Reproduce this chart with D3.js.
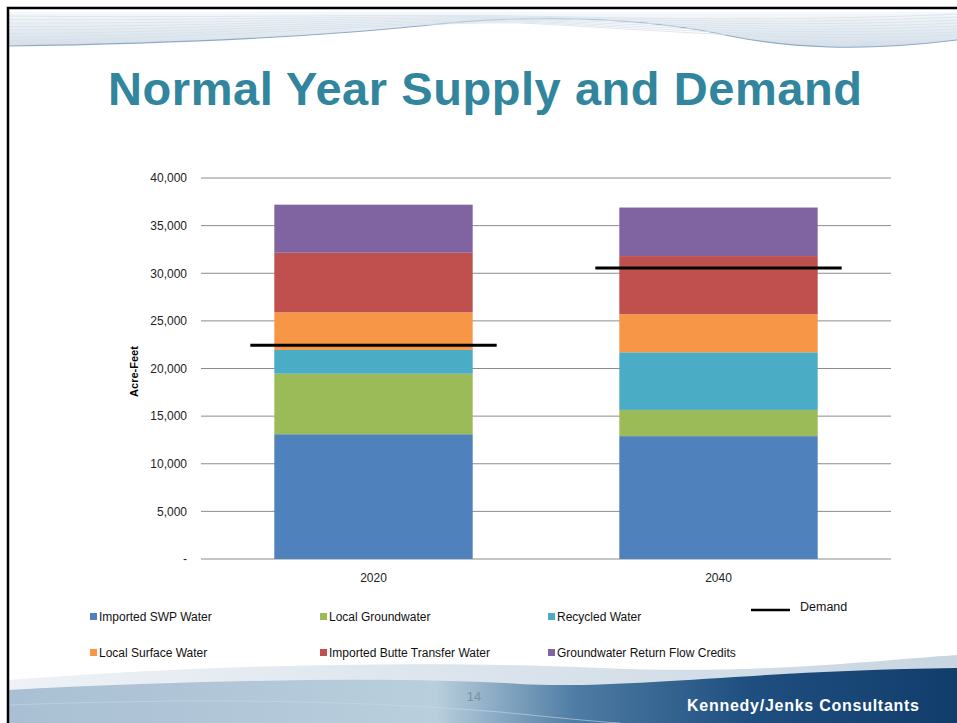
<!DOCTYPE html>
<html>
<head>
<meta charset="utf-8">
<script src="https://cdn.jsdelivr.net/npm/d3@7"></script>
<style>
  body { margin: 0; background: #fff; }
  svg { display: block; font-family: "Liberation Sans", Arial, sans-serif; }
</style>
</head>
<body>
<div id="chart"></div>
<script>
// Chart data (acre-feet)
const years = ["2020", "2040"];
const seriesNames = [
    "Imported SWP Water",
    "Local Groundwater",
    "Recycled Water",
    "Local Surface Water",
    "Imported Butte Transfer Water",
    "Groundwater Return Flow Credits"
];
const importedSWP = [13100, 12900];
const localGroundwater = [6350, 2750];
const recycledWater = [2500, 6050];
const localSurfaceWater = [3950, 4000];
const butteTransfer = [6250, 6100];
const returnFlowCredits = [5050, 5100];
const demand = [22450, 30550];
const yTicks = [0, 5000, 10000, 15000, 20000, 25000, 30000, 35000, 40000];

const colors = ["#4f81bd", "#9bbb59", "#4bacc6", "#f79646", "#c0504d", "#8064a2"];

const W = 957, H = 723;
const svg = d3.select("#chart").append("svg")
    .attr("width", W)
    .attr("height", H);

const defs = svg.append("defs");

// ---- slide decoration ----
const topGrad = defs.append("linearGradient").attr("id", "topWave")
    .attr("x1", "0%").attr("y1", "0%").attr("x2", "0%").attr("y2", "100%");
topGrad.append("stop").attr("offset", "0%").attr("stop-color", "#f4f7fa");
topGrad.append("stop").attr("offset", "100%").attr("stop-color", "#c9d6e3");

const botGrad = defs.append("linearGradient").attr("id", "botWave")
    .attr("x1", "0%").attr("y1", "0%").attr("x2", "100%").attr("y2", "0%");
botGrad.append("stop").attr("offset", "0%").attr("stop-color", "#a9bfd3");
botGrad.append("stop").attr("offset", "45%").attr("stop-color", "#b9cfdd");
botGrad.append("stop").attr("offset", "60%").attr("stop-color", "#4d7ba3");
botGrad.append("stop").attr("offset", "78%").attr("stop-color", "#1f4f80");
botGrad.append("stop").attr("offset", "100%").attr("stop-color", "#113d6b");

const lightGrad = defs.append("linearGradient").attr("id", "lightWave")
    .attr("x1", "0%").attr("y1", "0%").attr("x2", "100%").attr("y2", "0%");
lightGrad.append("stop").attr("offset", "0%").attr("stop-color", "#eef2f6");
lightGrad.append("stop").attr("offset", "100%").attr("stop-color", "#c8d6e2");

// top wave band
svg.append("path")
    .attr("d", "M8,12 L957,12 L957,40 C860,52 790,48 730,36 C640,16 520,14 420,26 C300,38 150,44 8,46 Z")
    .attr("fill", "url(#topWave)")
    .attr("opacity", 0.8);
svg.append("path")
    .attr("d", "M8,46 C150,44 300,38 420,26 C520,14 640,16 730,36 C790,48 860,52 957,40")
    .attr("fill", "none").attr("stroke", "#8eaac6").attr("stroke-width", 1.2);
d3.range(8).forEach(i => {
    svg.append("path")
        .attr("d", `M8,${16 + i * 3.5} C200,${18 + i * 3} 420,${14 + i} 520,${16 + i} C640,${18 + i * 1.5} 780,${22 + i * 3} 957,${14 + i * 3}`)
        .attr("fill", "none").attr("stroke", "#d7e1ea").attr("stroke-width", 0.8);
});

// bottom wave
svg.append("path")
    .attr("d", "M8,680 C200,665 420,660 600,668 C760,675 880,660 957,655 L957,723 L8,723 Z")
    .attr("fill", "url(#lightWave)");
svg.append("path")
    .attr("d", "M8,690 C200,680 400,676 520,684 C620,690 760,670 957,668 L957,723 L8,723 Z")
    .attr("fill", "url(#botWave)");
svg.append("path")
    .attr("d", "M8,705 C200,698 350,700 500,712 C560,718 600,722 620,723")
    .attr("fill", "none").attr("stroke", "#c9d8e4").attr("stroke-width", 1).attr("opacity", 0.6);

svg.append("text")
    .attr("x", 474).attr("y", 701)
    .attr("text-anchor", "middle")
    .attr("fill", "#7f8f9c")
    .style("font-size", "13px")
    .text("14");

svg.append("text")
    .attr("x", 687).attr("y", 711)
    .attr("fill", "#fff")
    .attr("textLength", 232)
    .style("font-weight", "bold")
    .style("font-size", "16px")
    .text("Kennedy/Jenks Consultants");

// slide frame
svg.append("path")
    .attr("d", `M8,${H} L8,8 L${W},8`)
    .attr("fill", "none").attr("stroke", "#000").attr("stroke-width", 2.5);

// title
svg.append("text")
    .attr("x", 485).attr("y", 105)
    .attr("text-anchor", "middle")
    .attr("fill", "#31859c")
    .attr("textLength", 754)
    .style("font-weight", "bold")
    .style("font-size", "47px")
    .text("Normal Year Supply and Demand");

// ---- chart ----
const plot = { left: 201, right: 891, top: 178, bottom: 559 };

const x = d3.scaleBand()
    .domain(years)
    .range([plot.left, plot.right])
    .paddingInner(0.425)
    .paddingOuter(0.2125);

const y = d3.scaleLinear()
    .domain([0, 40000])
    .range([plot.bottom, plot.top]);

// gridlines
svg.append("g")
    .selectAll("line")
    .data(yTicks)
    .join("line")
    .attr("x1", plot.left).attr("x2", plot.right)
    .attr("y1", d => y(d)).attr("y2", d => y(d))
    .attr("stroke", "#8c8c8c")
    .attr("stroke-width", 1);

// y axis labels
const yAxis = svg.append("g")
    .attr("transform", `translate(${plot.left - 14},0)`)
    .call(d3.axisLeft(y).tickValues(yTicks).tickSize(0)
        .tickFormat(d => d === 0 ? "-" : d3.format(",")(d)));
yAxis.select(".domain").remove();
yAxis.selectAll("text")
    .attr("x", 0)
    .attr("fill", "#222")
    .style("font-family", "'Liberation Sans', Arial, sans-serif")
    .style("font-size", "12px");

svg.append("text")
    .attr("transform", `translate(138,${(plot.top + plot.bottom) / 2 + 3}) rotate(-90)`)
    .attr("text-anchor", "middle")
    .attr("fill", "#000")
    .style("font-weight", "bold")
    .style("font-size", "11px")
    .text("Acre-Feet");

// x axis labels
const xAxis = svg.append("g")
    .attr("transform", `translate(0,${plot.bottom + 11})`)
    .call(d3.axisBottom(x).tickSize(0));
xAxis.select(".domain").remove();
xAxis.selectAll("text")
    .attr("fill", "#222")
    .style("font-family", "'Liberation Sans', Arial, sans-serif")
    .style("font-size", "12px");

// stacked bars
const rows = years.map((yr, i) => ({
    year: yr,
    s0: importedSWP[i],
    s1: localGroundwater[i],
    s2: recycledWater[i],
    s3: localSurfaceWater[i],
    s4: butteTransfer[i],
    s5: returnFlowCredits[i]
}));
const keys = ["s0", "s1", "s2", "s3", "s4", "s5"];
const stacked = d3.stack().keys(keys)(rows);

svg.append("g")
    .selectAll("g")
    .data(stacked)
    .join("g")
    .attr("fill", (d, i) => colors[i])
    .selectAll("rect")
    .data(d => d)
    .join("rect")
    .attr("x", d => x(d.data.year))
    .attr("width", x.bandwidth())
    .attr("y", d => y(d[1]))
    .attr("height", d => y(d[0]) - y(d[1]));

// demand lines
const overhang = 24;
svg.append("g")
    .selectAll("line")
    .data(years)
    .join("line")
    .attr("x1", d => x(d) - overhang)
    .attr("x2", d => x(d) + x.bandwidth() + overhang)
    .attr("y1", (d, i) => y(demand[i]))
    .attr("y2", (d, i) => y(demand[i]))
    .attr("stroke", "#000")
    .attr("stroke-width", 3);

// legend
const legendCols = [92, 322, 550];
const legendRows = [617, 653];
const legend = svg.append("g");
seriesNames.forEach((name, i) => {
    const lx = legendCols[i % 3];
    const ly = legendRows[Math.floor(i / 3)];
    legend.append("rect")
        .attr("x", lx - 2).attr("y", ly - 4)
        .attr("width", 7).attr("height", 7)
        .attr("fill", colors[i]);
    legend.append("text")
        .attr("x", lx + 7).attr("y", ly + 4)
        .attr("fill", "#111")
        .style("font-size", "12px")
        .text(name);
});
legend.append("line")
    .attr("x1", 751).attr("x2", 790)
    .attr("y1", 610).attr("y2", 610)
    .attr("stroke", "#000").attr("stroke-width", 2.5);
legend.append("text")
    .attr("x", 800).attr("y", 611)
    .attr("fill", "#111")
    .style("font-size", "12.5px")
    .text("Demand");
</script>
</body>
</html>
